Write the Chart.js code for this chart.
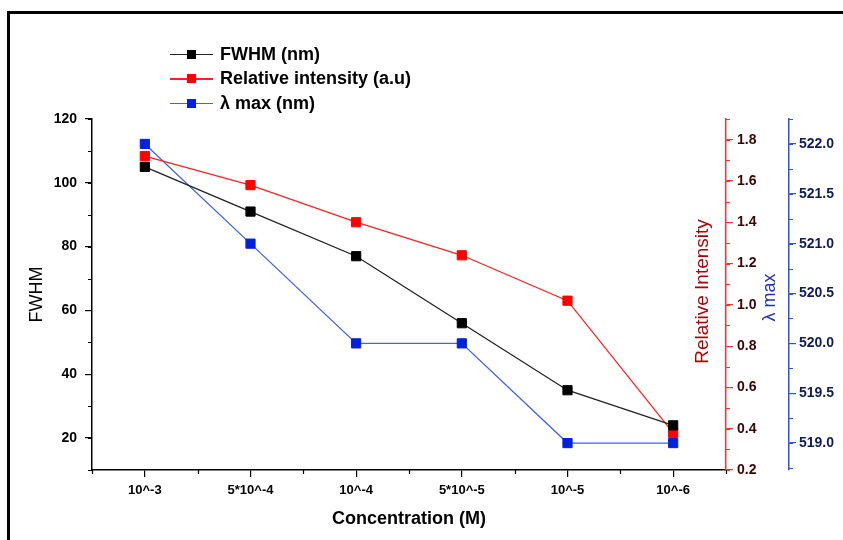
<!DOCTYPE html>
<html>
<head>
<meta charset="utf-8">
<script src="https://cdn.jsdelivr.net/npm/chart.js@4.4.1/dist/chart.umd.min.js"></script>
<style>
  html, body { margin: 0; padding: 0; background: #fff; overflow: hidden; }
  #wrap { position: relative; width: 843px; height: 540px; }
  #frame { position: absolute; left: 7px; top: 11px; width: 900px; height: 600px; border: 3px solid #000; }
  #chart { position: absolute; left: 0; top: 0; }
  #legend { position: absolute; left: 170px; top: 42px; font: bold 18px 'Liberation Sans', Arial, sans-serif; color: #000; }
  .row { display: flex; align-items: center; height: 24.5px; }
  .sym { position: relative; width: 43px; height: 1.5px; margin-right: 7px; }
  .sym i { position: absolute; left: 17px; top: -4px; width: 9px; height: 9px; }
</style>
</head>
<body>
<div id="wrap">
  <div id="frame"></div>
  <canvas id="chart" width="843" height="540"></canvas>
  <div id="legend"></div>
</div>
<script>
// données
const categories = ['10^-3', '5*10^-4', '10^-4', '5*10^-5', '10^-5', '10^-6'];
const fwhm = [105, 91, 77, 56, 35, 24];
const relIntensity = [1.72, 1.58, 1.40, 1.24, 1.02, 0.38];
const lambdaMax = [522.0, 521.0, 520.0, 520.0, 519.0, 519.0];
const seriesNames = ['FWHM (nm)', 'Relative intensity (a.u)', 'λ max (nm)'];

// échelles des trois axes
const fwhmRange = [10, 120, 20];
const intensityRange = [0.2, 1.9, 0.2];
const lambdaRange = [518.73, 522.25, 0.5];
const minorSteps = { y: 10, y1: 0.1, y2: 0.25, x: 1 };

const FONT = "'Liberation Sans', Arial, sans-serif";
const lineColors = ['#222222', '#ff2020', '#4060f0'];
const markColors = ['#000000', '#ff0000', '#0022dd'];

// légende en HTML
const legend = document.getElementById('legend');
seriesNames.forEach((name, i) => {
  const row = document.createElement('div');
  row.className = 'row';
  row.innerHTML = '<span class="sym" style="background:' + lineColors[i] + '"><i style="background:' + markColors[i] + '"></i></span>' + name;
  legend.appendChild(row);
});

// petites graduations + titres des axes de droite
const extras = {
  id: 'extras',
  afterDraw(chart) {
    const ctx = chart.ctx;
    ctx.save();
    for (const id in minorSteps) {
      const s = chart.scales[id];
      const step = minorSteps[id];
      ctx.strokeStyle = s.options.border.color;
      ctx.lineWidth = 1.2;
      ctx.beginPath();
      if (s.isHorizontal()) {
        for (let v = s.min - 0.5; v <= s.max + 0.5; v += step) {
          const x = Math.round(s.getPixelForValue(v)) + 0.5;
          ctx.moveTo(x, s.top);
          ctx.lineTo(x, s.top + 4);
        }
      } else {
        const x0 = s.position === 'left' ? s.right : s.left;
        const dir = s.position === 'left' ? -1 : 1;
        const start = Math.ceil(s.min / step - 1e-6) * step;
        for (let v = start; v <= s.max + 1e-9; v += step) {
          const y = Math.round(s.getPixelForValue(v)) + 0.5;
          ctx.moveTo(x0, y);
          ctx.lineTo(x0 + dir * 4, y);
        }
      }
      ctx.stroke();
    }
    const area = chart.chartArea;
    const mid = (area.top + area.bottom) / 2;
    const titles = [
      { scale: 'y1', text: 'Relative Intensity', color: '#b00000', dx: -23, dy: -3, size: 19 },
      { scale: 'y2', text: 'λ max', color: '#2030c0', dx: -19, dy: 3, size: 18 }
    ];
    titles.forEach(t => {
      const s = chart.scales[t.scale];
      ctx.save();
      ctx.translate(s.left + t.dx, mid + t.dy);
      ctx.rotate(-Math.PI / 2);
      ctx.font = t.size + 'px ' + FONT;
      ctx.fillStyle = t.color;
      ctx.textAlign = 'center';
      ctx.textBaseline = 'middle';
      ctx.fillText(t.text, 0, 0);
      ctx.restore();
    });
    ctx.restore();
  }
};

function ds(label, data, axis, i) {
  return {
    label: label,
    data: data,
    yAxisID: axis,
    borderColor: lineColors[i],
    borderWidth: 1.3,
    backgroundColor: markColors[i],
    pointBackgroundColor: markColors[i],
    pointBorderColor: markColors[i],
    pointBorderWidth: 1,
    pointStyle: 'rect',
    pointRadius: 6.5,
    tension: 0
  };
}

new Chart(document.getElementById('chart'), {
  type: 'line',
  data: {
    labels: categories,
    datasets: [
      ds(seriesNames[0], fwhm, 'y', 0),
      ds(seriesNames[1], relIntensity, 'y1', 1),
      ds(seriesNames[2], lambdaMax, 'y2', 2)
    ]
  },
  options: {
    responsive: false,
    animation: false,
    layout: { padding: { top: 119, left: 0, right: 0, bottom: 0 } },
    plugins: { legend: { display: false }, tooltip: { enabled: false } },
    scales: {
      x: {
        offset: true,
        grid: { drawOnChartArea: false, offset: false, tickLength: 7, color: '#000', lineWidth: 1.2 },
        border: { color: '#000', width: 1.5 },
        ticks: { color: '#000', padding: 6, font: { family: FONT, size: 13, weight: 'bold' }, maxRotation: 0 },
        title: { display: true, text: 'Concentration (M)', color: '#000', padding: { top: 0, bottom: 10 }, font: { family: FONT, size: 18, weight: 'bold' } },
        afterFit(s) { s.height = 70; }
      },
      y: {
        position: 'left',
        min: fwhmRange[0], max: fwhmRange[1],
        grid: { drawOnChartArea: false, tickLength: 7, color: '#000', lineWidth: 1.2 },
        border: { color: '#000', width: 1.5 },
        ticks: { stepSize: fwhmRange[2], includeBounds: false, color: '#000', padding: 8, font: { family: FONT, size: 14, weight: 'bold' } },
        title: { display: true, text: 'FWHM', color: '#000', padding: { top: 26, bottom: 0 }, font: { family: FONT, size: 18 } },
        afterFit(s) { s.width = 92; }
      },
      y1: {
        position: 'right',
        min: intensityRange[0], max: intensityRange[1],
        grid: { drawOnChartArea: false, tickLength: 7, color: '#ff3030', lineWidth: 1.2 },
        border: { color: '#ff3030', width: 1.5 },
        ticks: { stepSize: intensityRange[2], includeBounds: false, color: '#3a0505', padding: 4,
                 font: { family: FONT, size: 14, weight: 'bold' }, callback: v => v.toFixed(1) },
        afterFit(s) { s.width = 63; }
      },
      y2: {
        position: 'right',
        min: lambdaRange[0], max: lambdaRange[1],
        grid: { drawOnChartArea: false, tickLength: 7, color: '#3050e0', lineWidth: 1.2 },
        border: { color: '#3050e0', width: 1.5 },
        ticks: { stepSize: lambdaRange[2], includeBounds: false, color: '#0d1a5c', padding: 3,
                 font: { family: FONT, size: 14, weight: 'bold' }, callback: v => v.toFixed(1) },
        afterFit(s) { s.width = 54; }
      }
    }
  },
  plugins: [extras]
});
</script>
</body>
</html>
